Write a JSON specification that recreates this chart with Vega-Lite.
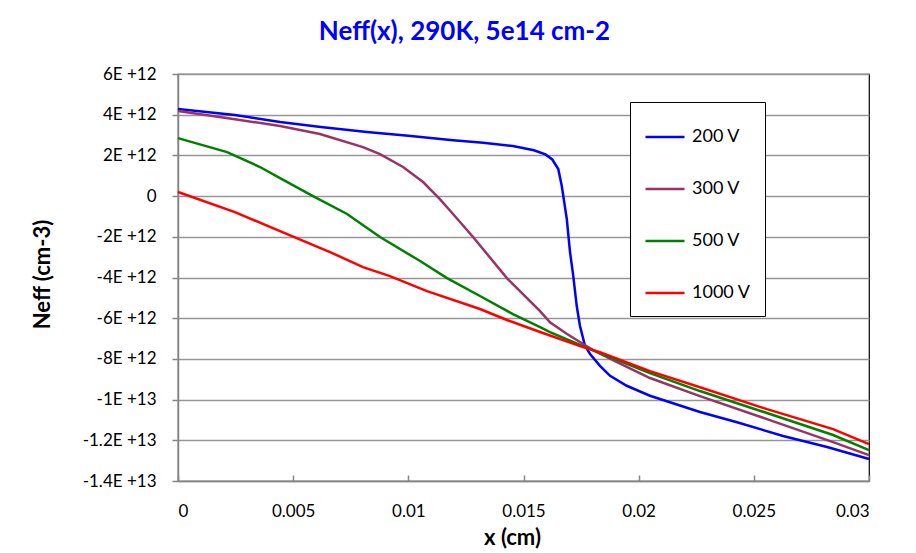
{
  "$schema": "https://vega.github.io/schema/vega-lite/v6.json",
  "width": 691,
  "height": 407,
  "autosize": "none",
  "padding": {"left": 178, "top": 74, "right": 47, "bottom": 72},
  "background": "white",
  "title": {
    "text": "Neff(x), 290K, 5e14 cm-2",
    "font": "Lato",
    "fontSize": 26,
    "fontWeight": "bold",
    "color": "#0000FF",
    "anchor": "middle",
    "dx": -59,
    "offset": 20
  },
  "config": {
    "view": {"stroke": "#000000", "strokeWidth": 1.2},
    "font": "Lato",
    "axis": {
      "labelFont": "Lato",
      "labelFontSize": 17,
      "labelColor": "#000000",
      "titleFont": "Lato",
      "titleFontSize": 22,
      "titleFontWeight": "bold",
      "titleColor": "#000000",
      "domainColor": "#868686",
      "domainWidth": 1.5,
      "tickColor": "#868686",
      "tickWidth": 1.5,
      "gridColor": "#969696",
      "gridWidth": 1.5
    }
  },
  "data": {
    "values": [
      {"v": "200 V", "x": 0, "n": 4.28e12},
      {"v": "200 V", "x": 0.00247, "n": 3.98e12},
      {"v": "200 V", "x": 0.00443, "n": 3.64e12},
      {"v": "200 V", "x": 0.0062, "n": 3.40e12},
      {"v": "200 V", "x": 0.0082, "n": 3.15e12},
      {"v": "200 V", "x": 0.01, "n": 2.97e12},
      {"v": "200 V", "x": 0.01194, "n": 2.75e12},
      {"v": "200 V", "x": 0.01325, "n": 2.62e12},
      {"v": "200 V", "x": 0.01454, "n": 2.46e12},
      {"v": "200 V", "x": 0.01545, "n": 2.25e12},
      {"v": "200 V", "x": 0.01595, "n": 2.05e12},
      {"v": "200 V", "x": 0.01625, "n": 1.8e12},
      {"v": "200 V", "x": 0.01651, "n": 1.33e12},
      {"v": "200 V", "x": 0.01666, "n": 0.51e12},
      {"v": "200 V", "x": 0.01688, "n": -1.13e12},
      {"v": "200 V", "x": 0.01702, "n": -2.75e12},
      {"v": "200 V", "x": 0.01716, "n": -3.92e12},
      {"v": "200 V", "x": 0.01731, "n": -5.39e12},
      {"v": "200 V", "x": 0.01745, "n": -6.37e12},
      {"v": "200 V", "x": 0.01767, "n": -7.36e12},
      {"v": "200 V", "x": 0.01789, "n": -7.76e12},
      {"v": "200 V", "x": 0.01832, "n": -8.34e12},
      {"v": "200 V", "x": 0.01876, "n": -8.83e12},
      {"v": "200 V", "x": 0.01948, "n": -9.32e12},
      {"v": "200 V", "x": 0.02049, "n": -9.81e12},
      {"v": "200 V", "x": 0.02266, "n": -10.61e12},
      {"v": "200 V", "x": 0.02427, "n": -11.11e12},
      {"v": "200 V", "x": 0.02627, "n": -11.79e12},
      {"v": "200 V", "x": 0.02818, "n": -12.33e12},
      {"v": "200 V", "x": 0.03, "n": -12.92e12},

      {"v": "300 V", "x": 0, "n": 4.18e12},
      {"v": "300 V", "x": 0.00247, "n": 3.78e12},
      {"v": "300 V", "x": 0.00443, "n": 3.44e12},
      {"v": "300 V", "x": 0.00616, "n": 3.05e12},
      {"v": "300 V", "x": 0.00803, "n": 2.41e12},
      {"v": "300 V", "x": 0.00877, "n": 2.06e12},
      {"v": "300 V", "x": 0.00977, "n": 1.43e12},
      {"v": "300 V", "x": 0.01064, "n": 0.69e12},
      {"v": "300 V", "x": 0.01137, "n": -0.15e12},
      {"v": "300 V", "x": 0.01194, "n": -0.88e12},
      {"v": "300 V", "x": 0.01281, "n": -2.01e12},
      {"v": "300 V", "x": 0.01428, "n": -4.03e12},
      {"v": "300 V", "x": 0.01572, "n": -5.65e12},
      {"v": "300 V", "x": 0.01615, "n": -6.2e12},
      {"v": "300 V", "x": 0.01689, "n": -6.78e12},
      {"v": "300 V", "x": 0.01745, "n": -7.17e12},
      {"v": "300 V", "x": 0.01802, "n": -7.57e12},
      {"v": "300 V", "x": 0.01906, "n": -8.16e12},
      {"v": "300 V", "x": 0.02049, "n": -8.94e12},
      {"v": "300 V", "x": 0.02266, "n": -9.83e12},
      {"v": "300 V", "x": 0.02557, "n": -10.96e12},
      {"v": "300 V", "x": 0.02844, "n": -12.09e12},
      {"v": "300 V", "x": 0.03, "n": -12.73e12},

      {"v": "500 V", "x": 0, "n": 2.85e12},
      {"v": "500 V", "x": 0.00213, "n": 2.16e12},
      {"v": "500 V", "x": 0.00356, "n": 1.43e12},
      {"v": "500 V", "x": 0.00443, "n": 0.88e12},
      {"v": "500 V", "x": 0.00586, "n": 0.0},
      {"v": "500 V", "x": 0.00734, "n": -0.88e12},
      {"v": "500 V", "x": 0.00877, "n": -2.01e12},
      {"v": "500 V", "x": 0.01051, "n": -3.19e12},
      {"v": "500 V", "x": 0.01168, "n": -4.03e12},
      {"v": "500 V", "x": 0.01311, "n": -4.91e12},
      {"v": "500 V", "x": 0.01454, "n": -5.80e12},
      {"v": "500 V", "x": 0.01572, "n": -6.44e12},
      {"v": "500 V", "x": 0.01615, "n": -6.68e12},
      {"v": "500 V", "x": 0.01758, "n": -7.37e12},
      {"v": "500 V", "x": 0.01832, "n": -7.71e12},
      {"v": "500 V", "x": 0.02049, "n": -8.70e12},
      {"v": "500 V", "x": 0.02266, "n": -9.58e12},
      {"v": "500 V", "x": 0.02557, "n": -10.66e12},
      {"v": "500 V", "x": 0.02844, "n": -11.74e12},
      {"v": "500 V", "x": 0.03, "n": -12.48e12},

      {"v": "1000 V", "x": 0, "n": 0.20e12},
      {"v": "1000 V", "x": 0.00247, "n": -0.79e12},
      {"v": "1000 V", "x": 0.00443, "n": -1.72e12},
      {"v": "1000 V", "x": 0.0066, "n": -2.75e12},
      {"v": "1000 V", "x": 0.00803, "n": -3.49e12},
      {"v": "1000 V", "x": 0.0092, "n": -3.93e12},
      {"v": "1000 V", "x": 0.01081, "n": -4.67e12},
      {"v": "1000 V", "x": 0.01311, "n": -5.55e12},
      {"v": "1000 V", "x": 0.01428, "n": -6.09e12},
      {"v": "1000 V", "x": 0.01572, "n": -6.68e12},
      {"v": "1000 V", "x": 0.01758, "n": -7.42e12},
      {"v": "1000 V", "x": 0.01832, "n": -7.67e12},
      {"v": "1000 V", "x": 0.02049, "n": -8.60e12},
      {"v": "1000 V", "x": 0.02266, "n": -9.39e12},
      {"v": "1000 V", "x": 0.02557, "n": -10.47e12},
      {"v": "1000 V", "x": 0.02844, "n": -11.45e12},
      {"v": "1000 V", "x": 0.03, "n": -12.19e12}
    ]
  },
  "mark": {"type": "line", "strokeWidth": 2.5, "interpolate": "linear"},
  "encoding": {
    "x": {
      "field": "x",
      "type": "quantitative",
      "scale": {"domain": [0, 0.03], "nice": false, "zero": false},
      "axis": {
        "values": [0, 0.005, 0.01, 0.015, 0.02, 0.025, 0.03],
        "labelExpr": "format(datum.value, '~g')",
        "grid": false,
        "tickSize": -6,
        "labelPadding": 28,
        "title": "x (cm)",
        "titleX": 334,
        "titleY": 56,
        "titleBaseline": "middle",
        "titleAlign": "center"
      }
    },
    "y": {
      "field": "n",
      "type": "quantitative",
      "scale": {"domain": [-1.4e13, 6e12], "nice": false, "zero": false},
      "axis": {
        "values": [6e12, 4e12, 2e12, 0, -2e12, -4e12, -6e12, -8e12, -1e13, -1.2e13, -1.4e13],
        "labelExpr": "datum.value == 0 ? '0' : replace(replace(format(datum.value, '~e'), 'e+', 'E +'), '\u2212', '-')",
        "grid": true,
        "tickSize": 6,
        "labelPadding": 16,
        "title": "Neff (cm-3)",
        "titleX": -136,
        "titleY": 200,
        "titleAngle": -90,
        "titleBaseline": "middle",
        "titleAlign": "center"
      }
    },
    "color": {
      "field": "v",
      "type": "nominal",
      "scale": {
        "domain": ["200 V", "300 V", "500 V", "1000 V"],
        "range": ["#0000FF", "#993366", "#008000", "#FF0000"]
      },
      "legend": {
        "title": null,
        "orient": "none",
        "legendX": 452,
        "legendY": 28,
        "padding": 14,
        "rowPadding": 22,
        "strokeColor": "#000000",
        "fillColor": "#FFFFFF",
        "symbolType": "stroke",
        "symbolSize": 1521,
        "symbolStrokeWidth": 2.5,
        "labelFont": "Lato",
        "labelFontSize": 18,
        "labelColor": "#000000",
        "labelOffset": 6
      }
    },
    "order": {"field": "x", "type": "quantitative"}
  }
}
